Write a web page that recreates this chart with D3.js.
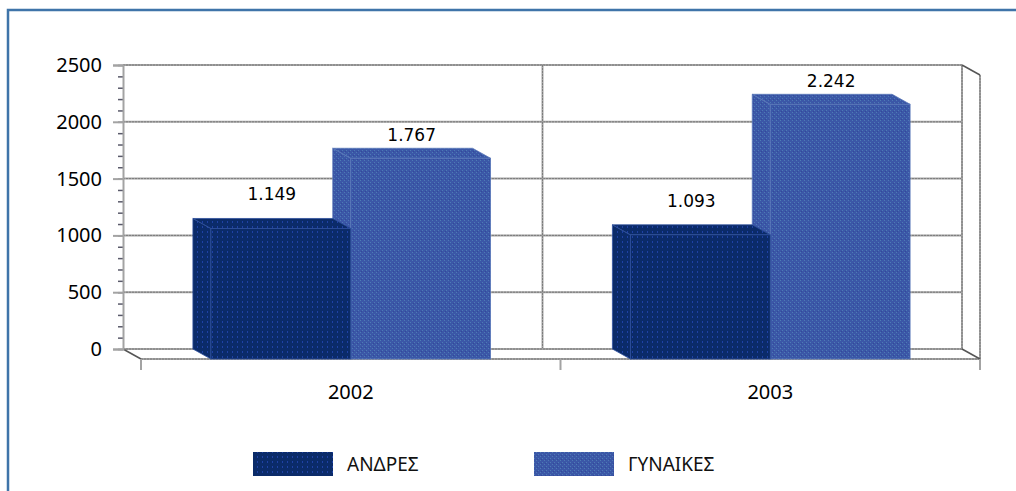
<!DOCTYPE html>
<html>
<head>
<meta charset="utf-8">
<script src="https://cdn.jsdelivr.net/npm/d3@7"></script>
<style>
  html, body { margin: 0; padding: 0; background: #fff; }
  svg { display: block; }
</style>
</head>
<body>
<div id="chart"></div>
<script>
// data
var years = ["2002", "2003"];
var seriesNames = ["ΑΝΔΡΕΣ", "ΓΥΝΑΙΚΕΣ"];
var andres = [1149, 1093];
var gynaikes = [1767, 2242];
var valueLabels = [["1.149", "1.093"], ["1.767", "2.242"]];
var yTicks = [0, 500, 1000, 1500, 2000, 2500];

var svgWidth = 1016, svgHeight = 491;
var dx = 18, dy = 10;   // depth of the 3d effect

var svg = d3.select("#chart").append("svg")
  .attr("width", svgWidth)
  .attr("height", svgHeight);

// patterns for the textured fills
var defs = svg.append("defs");
var pA = defs.append("pattern").attr("id", "patA")
  .attr("width", 5).attr("height", 5).attr("patternUnits", "userSpaceOnUse");
pA.append("rect").attr("width", 5).attr("height", 5).attr("fill", "#0b2b69");
pA.append("rect").attr("x", 2).attr("y", 1).attr("width", 1).attr("height", 2).attr("fill", "#1f42a6");

var pG = defs.append("pattern").attr("id", "patG")
  .attr("width", 4).attr("height", 4).attr("patternUnits", "userSpaceOnUse");
pG.append("rect").attr("width", 4).attr("height", 4).attr("fill", "#3b57a7");
pG.append("rect").attr("x", 0).attr("y", 0).attr("width", 1).attr("height", 1).attr("fill", "#4d7bb5");
pG.append("rect").attr("x", 2).attr("y", 2).attr("width", 1).attr("height", 1).attr("fill", "#4d7bb5");
pG.append("rect").attr("x", 1).attr("y", 3).attr("width", 1).attr("height", 1).attr("fill", "#33499a");

var fills = ["url(#patA)", "url(#patG)"];
var labelOffsets = [18, 7];

// outer frame
svg.append("rect")
  .attr("x", 8).attr("y", 10)
  .attr("width", 1100).attr("height", 600)
  .attr("fill", "none")
  .attr("stroke", "#3f74a9")
  .attr("stroke-width", 2.5);

// scales (back wall)
var wallLeft = 123, wallRight = 962, wallTop = 65, wallBottom = 349;
var yScale = d3.scaleLinear().domain([0, 2500]).range([wallBottom, wallTop]);
var xCat = d3.scaleBand().domain(years).range([wallLeft, wallRight]).padding(0);
var xBar = d3.scaleBand().domain(years).range([wallLeft, wallRight])
  .paddingInner(1 / 3).paddingOuter(1 / 6);
var xSeries = d3.scaleBand().domain(seriesNames).range([0, xBar.bandwidth()]);
var xFront = d3.scaleBand().domain(years).range([wallLeft + dx, wallRight + dx]);

var gridColor = "#a3a3a3";
var gridDash = "2,1";
var grid = svg.append("g");

function gridLine(x1, y1, x2, y2) {
  grid.append("line")
    .attr("x1", x1).attr("y1", y1).attr("x2", x2).attr("y2", y2)
    .attr("stroke", gridColor).attr("stroke-width", 2);
  grid.append("line")
    .attr("x1", x1).attr("y1", y1).attr("x2", x2).attr("y2", y2)
    .attr("stroke", "#7c7c7c").attr("stroke-width", 1)
    .attr("stroke-dasharray", gridDash);
}

// horizontal gridlines on the back wall
yTicks.slice(1).forEach(function (t) {
  gridLine(wallLeft, yScale(t), wallRight, yScale(t));
});

// vertical gridline between categories
gridLine(xCat(years[1]), yScale(2500), xCat(years[1]), yScale(0));

// floor and right wall
var y0 = yScale(0), yTop = yScale(2500);
gridLine(wallLeft, y0, wallRight, y0);
gridLine(wallLeft + dx, y0 + dy, wallRight + dx, y0 + dy);
gridLine(wallRight, yTop, wallRight, y0);
gridLine(wallRight + dx, yTop + dy, wallRight + dx, y0 + dy);
[[wallRight, yTop], [wallRight, y0], [wallLeft, y0]].forEach(function (p) {
  grid.append("line")
    .attr("x1", p[0]).attr("x2", p[0] + dx)
    .attr("y1", p[1]).attr("y2", p[1] + dy)
    .attr("stroke", "#555").attr("stroke-width", 1.5);
});

// y axis
var yAxisMinor = d3.axisLeft(yScale).tickValues(d3.range(0, 2501, 100))
  .tickSize(5).tickFormat("");
svg.append("g").attr("transform", `translate(${wallLeft},0)`).call(yAxisMinor)
  .call(g => g.select(".domain").remove())
  .call(g => g.selectAll("line").attr("stroke", "#5a5a6a").attr("stroke-width", 1.5));

var yAxis = d3.axisLeft(yScale).tickValues(yTicks).tickSize(10).tickPadding(11)
  .tickFormat(d3.format("d"));
svg.append("g").attr("transform", `translate(${wallLeft},0)`).call(yAxis)
  .call(g => g.select(".domain").attr("stroke", gridColor).attr("stroke-width", 2))
  .call(g => g.selectAll("line").attr("stroke", gridColor).attr("stroke-width", 2))
  .call(g => g.selectAll("text")
    .attr("font-family", "'Noto Sans', sans-serif")
    .attr("font-size", 20).attr("fill", "#000"));

// x axis ticks at the category edges and labels
var xAxis = d3.axisBottom(xFront).tickSize(0).tickPadding(26);
svg.append("g").attr("transform", `translate(0,${y0 + dy})`).call(xAxis)
  .call(g => g.select(".domain").remove())
  .call(g => g.selectAll("text")
    .attr("font-family", "'Noto Sans', sans-serif")
    .attr("font-size", 20).attr("fill", "#000"));
var edges = years.map(d => xFront(d)).concat([xFront.range()[1]]);
svg.append("g").selectAll("line").data(edges).enter().append("line")
  .attr("x1", d => d).attr("x2", d => d)
  .attr("y1", y0 + dy).attr("y2", y0 + dy + 11)
  .attr("stroke", gridColor).attr("stroke-width", 2);

// bars
var barData = [];
years.forEach(function (yr, i) {
  // women first so the men's bar covers its side face
  barData.push({ year: yr, s: 1, value: gynaikes[i], label: valueLabels[1][i] });
  barData.push({ year: yr, s: 0, value: andres[i], label: valueLabels[0][i] });
});

var bars = svg.append("g");
barData.forEach(function (d) {
  var x0 = xBar(d.year) + xSeries(seriesNames[d.s]);
  var x1 = x0 + xSeries.bandwidth();
  var yt = yScale(d.value), yb = yScale(0);
  var g = bars.append("g");
  var edge = d.s === 0 ? "#2d4f9c" : "#5876b8";
  // left side face
  g.append("polygon")
    .attr("points", [[x0, yt], [x0 + dx, yt + dy], [x0 + dx, yb + dy], [x0, yb]].map(p => p.join(",")).join(" "))
    .attr("fill", fills[d.s]).attr("stroke", edge).attr("stroke-width", 0.8);
  // top face
  g.append("polygon")
    .attr("points", [[x0, yt], [x1, yt], [x1 + dx, yt + dy], [x0 + dx, yt + dy]].map(p => p.join(",")).join(" "))
    .attr("fill", fills[d.s]).attr("stroke", edge).attr("stroke-width", 0.8);
  // front face
  g.append("rect")
    .attr("x", x0 + dx).attr("y", yt + dy)
    .attr("width", x1 - x0).attr("height", yb - yt)
    .attr("fill", fills[d.s]).attr("stroke", edge).attr("stroke-width", 0.8);
  // value label
  svg.append("text")
    .attr("x", (x0 + x1) / 2 + dx / 2)
    .attr("y", yt - labelOffsets[d.s])
    .attr("text-anchor", "middle")
    .attr("font-family", "'DejaVu Sans', sans-serif")
    .attr("font-size", 17).attr("fill", "#000")
    .text(d.label);
});

// legend
var legendX = d3.scalePoint().domain(seriesNames).range([253, 534]);
var legend = svg.append("g");
seriesNames.forEach(function (name, i) {
  legend.append("rect")
    .attr("x", legendX(name)).attr("y", 452)
    .attr("width", 80).attr("height", 24)
    .attr("fill", fills[i]);
  legend.append("text")
    .attr("x", legendX(name) + 94).attr("y", 464)
    .attr("dominant-baseline", "central")
    .attr("font-family", "'Noto Sans', sans-serif")
    .attr("font-size", 19).attr("fill", "#111")
    .text(name);
});
</script>
</body>
</html>
